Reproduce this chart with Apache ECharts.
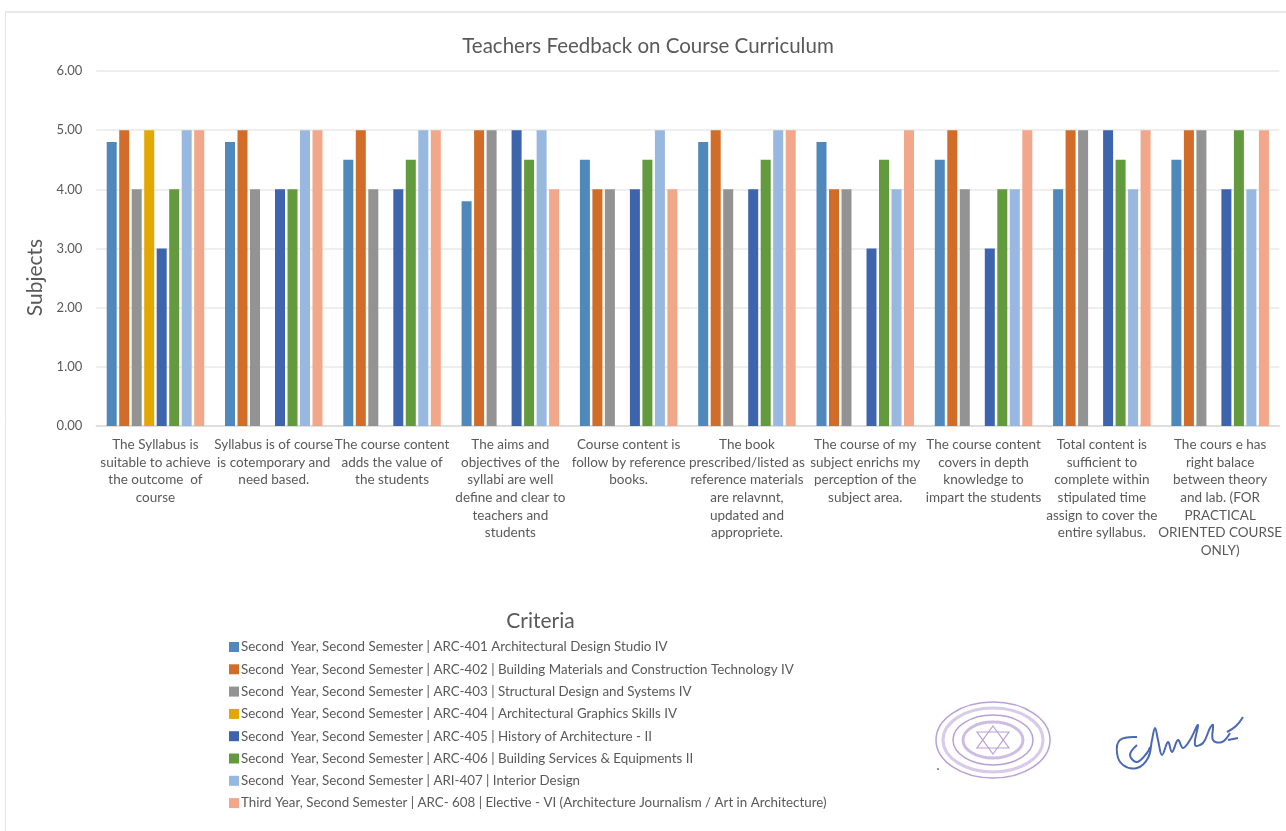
<!DOCTYPE html>
<html>
<head>
<meta charset="utf-8">
<title>Teachers Feedback on Course Curriculum</title>
<style>
html, body { margin: 0; padding: 0; background: #fff; }
#chart { width: 1286px; height: 831px; }
</style>
<script src="https://cdn.jsdelivr.net/npm/echarts@6/dist/echarts.min.js"></script>
</head>
<body>
<div id="chart"></div>
<script>
var categories = [
    'The Syllabus is\nsuitable to achieve\nthe outcome  of\ncourse',
    'Syllabus is of course\nis cotemporary and\nneed based.',
    'The course content\nadds the value of\nthe students',
    'The aims and\nobjectives of the\nsyllabi are well\ndefine and clear to\nteachers and\nstudents',
    'Course content is\nfollow by reference\nbooks.',
    'The book\nprescribed/listed as\nreference materials\nare relavnnt,\nupdated and\nappropriete.',
    'The course of my\nsubject enrichs my\nperception of the\nsubject area.',
    'The course content\ncovers in depth\nknowledge to\nimpart the students',
    'Total content is\nsufficient to\ncomplete within\nstipulated time\nassign to cover the\nentire syllabus.',
    'The cours e has\nright balace\nbetween theory\nand lab. (FOR\nPRACTICAL\nORIENTED COURSE\nONLY)'
];

var arc401 = [4.8, 4.8, 4.5, 3.8, 4.5, 4.8, 4.8, 4.5, 4, 4.5];
var arc402 = [5, 5, 5, 5, 4, 5, 4, 5, 5, 5];
var arc403 = [4, 4, 4, 5, 4, 4, 4, 4, 5, 5];
var arc404 = [5, 0, 0, 0, 0, 0, 0, 0, 0, 0];
var arc405 = [3, 4, 4, 5, 4, 4, 3, 3, 5, 4];
var arc406 = [4, 4, 4.5, 4.5, 4.5, 4.5, 4.5, 4, 4.5, 5];
var ari407 = [5, 5, 5, 5, 5, 5, 4, 4, 4, 4];
var arc608 = [5, 5, 5, 4, 4, 5, 5, 5, 5, 5];

var seriesNames = [
    'Second  Year, Second Semester | ARC-401 Architectural Design Studio IV',
    'Second  Year, Second Semester | ARC-402 | Building Materials and Construction Technology IV',
    'Second  Year, Second Semester | ARC-403 | Structural Design and Systems IV',
    'Second  Year, Second Semester | ARC-404 | Architectural Graphics Skills IV',
    'Second  Year, Second Semester | ARC-405 | History of Architecture - II',
    'Second  Year, Second Semester | ARC-406 | Building Services & Equipments II',
    'Second  Year, Second Semester | ARI-407 | Interior Design',
    'Third Year, Second Semester | ARC- 608 | Elective - VI (Architecture Journalism / Art in Architecture)'
];
var seriesValues = [arc401, arc402, arc403, arc404, arc405, arc406, ari407, arc608];
var seriesColors = ['#4f89bc', '#d16d28', '#939393', '#e2a800', '#3e64ad', '#649a3e', '#98b8e0', '#f2a68a'];

var textColor = '#595959';
var fontName = 'Lato';

var instance = echarts.init(document.getElementById('chart'));

var series = seriesNames.map(function (name, i) {
    return {
        name: name,
        type: 'bar',
        data: seriesValues[i],
        barWidth: 10,
        barGap: '25%',
        itemStyle: { color: seriesColors[i] }
    };
});

// stamp and signature on the scanned page
var stampColor = '#b9a0d6';
var signColor = '#4a68b4';
var stamp = [
    { type: 'ellipse', shape: { cx: 993, cy: 740, rx: 57, ry: 38 }, style: { fill: 'none', stroke: stampColor, lineWidth: 1.5 } },
    { type: 'ellipse', shape: { cx: 993, cy: 740, rx: 50, ry: 32 }, style: { fill: 'none', stroke: stampColor, lineWidth: 3, opacity: 0.55 } },
    { type: 'ellipse', shape: { cx: 993, cy: 740, rx: 40, ry: 25 }, style: { fill: 'none', stroke: stampColor, lineWidth: 1.5 } },
    { type: 'ellipse', shape: { cx: 993, cy: 740, rx: 30, ry: 18 }, style: { fill: 'none', stroke: stampColor, lineWidth: 3, opacity: 0.7 } },
    { type: 'polygon', shape: { points: [[993, 726], [1009, 748], [977, 748]] }, style: { fill: 'none', stroke: stampColor, lineWidth: 1.2 } },
    { type: 'polygon', shape: { points: [[993, 754], [1009, 732], [977, 732]] }, style: { fill: 'none', stroke: stampColor, lineWidth: 1.2 } },
    { type: 'circle', shape: { cx: 938, cy: 769, r: 1 }, style: { fill: '#7a6a90' } }
];
function signStroke(points) {
    return {
        type: 'polyline',
        shape: { points: points, smooth: 0.4 },
        style: { fill: 'none', stroke: signColor, lineWidth: 2 }
    };
}
var signature = [
    signStroke([[1137, 737], [1120, 740], [1117, 753], [1123, 765], [1137, 768], [1148, 758], [1152, 740], [1155, 728], [1158, 740], [1162, 755],
        [1168, 742], [1172, 752], [1178, 740], [1183, 748], [1190, 740], [1198, 725], [1195, 745], [1203, 743], [1210, 728], [1213, 725],
        [1213, 740], [1222, 742], [1230, 733]]),
    signStroke([[1137, 745], [1130, 755], [1137, 762], [1147, 753], [1150, 747]]),
    signStroke([[1227, 732], [1236, 726], [1243, 717]]),
    signStroke([[1228, 740], [1238, 738]])
];

var option = {
    backgroundColor: '#ffffff',
    animation: false,
    textStyle: { fontFamily: fontName },
    title: [
        {
            text: 'Teachers Feedback on Course Curriculum',
            left: 643,
            top: 31,
            textAlign: 'center',
            textStyle: { color: textColor, fontSize: 20.5, fontWeight: 'normal', fontFamily: fontName }
        },
        {
            text: 'Criteria',
            left: 535.5,
            top: 606,
            textAlign: 'center',
            textStyle: { color: textColor, fontSize: 21, fontWeight: 'normal', fontFamily: fontName }
        }
    ],
    legend: {
        orient: 'vertical',
        left: 224,
        top: 635,
        itemWidth: 10,
        itemHeight: 10,
        itemGap: 8.3,
        icon: 'rect',
        data: seriesNames,
        textStyle: { color: textColor, fontSize: 13.35, lineHeight: 14, fontFamily: fontName, padding: [0, 0, 0, -3] }
    },
    grid: { left: 96.3, right: 6.7, top: 71, bottom: 405 },
    xAxis: {
        type: 'category',
        data: categories,
        axisTick: { show: false },
        axisLine: { lineStyle: { color: '#d9d9d9', width: 1.5 } },
        axisLabel: {
            interval: 0,
            margin: 10,
            color: textColor,
            fontSize: 13.5,
            lineHeight: 17.6,
            fontFamily: fontName
        }
    },
    yAxis: {
        type: 'value',
        min: 0,
        max: 6,
        interval: 1,
        name: 'Subjects',
        nameLocation: 'middle',
        nameGap: 51,
        nameTextStyle: { color: textColor, fontSize: 21, fontFamily: fontName, padding: [0, 58, 0, 0] },
        axisLabel: {
            color: textColor,
            fontSize: 13,
            margin: 14,
            fontFamily: fontName,
            formatter: function (v) { return v.toFixed(2); }
        },
        splitLine: { lineStyle: { color: '#e8e8e8', width: 1.5 } }
    },
    series: series,
    graphic: {
        elements: [
            { type: 'line', shape: { x1: 5, y1: 12, x2: 1286, y2: 12 }, style: { stroke: '#e2e2e2', lineWidth: 1.5 } },
            { type: 'line', shape: { x1: 5.5, y1: 12, x2: 5.5, y2: 831 }, style: { stroke: '#e6e6e6', lineWidth: 1 } }
        ].concat(stamp).concat(signature)
    }
};
instance.setOption(option);
</script>
</body>
</html>
